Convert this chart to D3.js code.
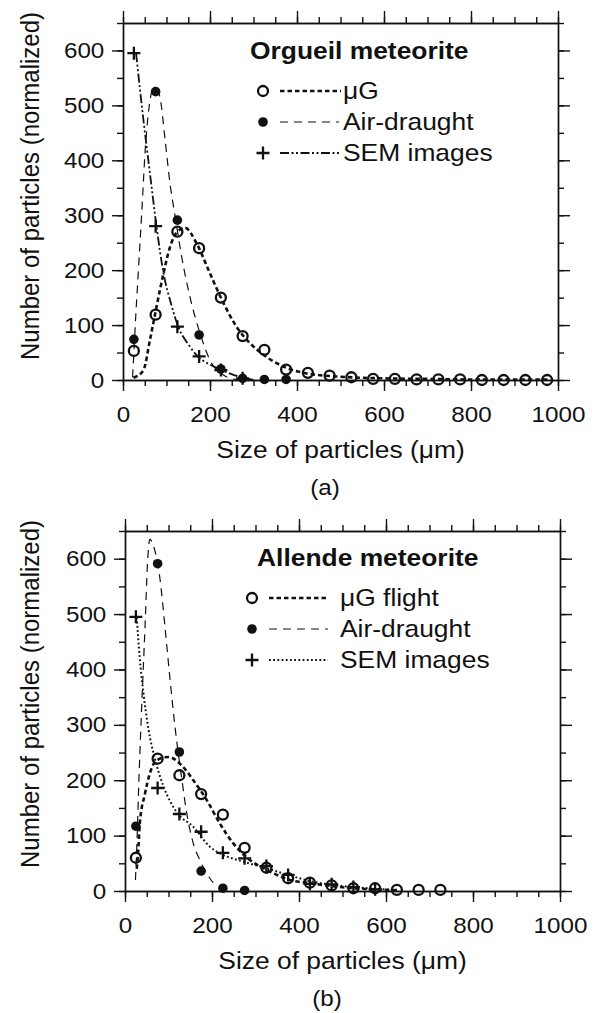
<!DOCTYPE html>
<html>
<head>
<meta charset="utf-8">
<script src="https://cdn.jsdelivr.net/npm/d3@7"></script>
<style>
  body { margin: 0; background: #fff; }
  svg { display: block; font-family: "Liberation Sans", Arial, sans-serif; }
</style>
</head>
<body>
<svg width="600" height="1013"></svg>
<script>
// bin centres (um)
var sizes = [25, 75, 125, 175, 225, 275, 325, 375, 425, 475, 525, 575, 625, 675, 725, 775, 825, 875, 925, 975];

// (a) Orgueil
var orgMuG = [53, 119, 270, 240, 150, 80, 55, 19, 13, 8, 5, 2, 2, 1, 1, 1, 0, 0, 0, 0];
var orgAir = [74, 525, 291, 82, 20, 3, 1, 1];
var orgSem = [595, 280, 97, 43, 18, 3];
// fitted curves, [size, count]
var orgMuGFit = [[24,4],[47,18],[62,73],[77,133],[93,194],[108,242],[123,268],[143,277],[169,249],[200,194],[231,140],[261,97],[292,67],[330,42],[376,22],[422,12],[500,6],[600,3],[700,2],[800,1],[900,1],[980,1]];
var orgAirFit = [[22,5],[25,50],[28,97],[35,194],[43,303],[51,418],[61,503],[70,532],[78,528],[85,515],[97,436],[108,358],[120,297],[135,224],[154,151],[177,85],[200,36],[231,9],[261,1],[290,0]];
var orgSemFit = [[30,595],[47,473],[62,376],[77,280],[93,195],[110,140],[127,97],[150,65],[173,42],[200,28],[227,18],[255,9],[277,4],[300,0]];

// (b) Allende
var allMuG = [60, 239, 209, 175, 138, 78, 42, 23, 15, 10, 5, 5, 2, 2, 2];
var allAir = [117, 591, 251, 36, 5, 1];
var allSem = [495, 186, 139, 107, 69, 59, 45, 29, 13, 12, 7, 3];
var allMuGFit = [[27,40],[31,80],[34,122],[46,176],[57,212],[73,236],[100,242],[130,227],[157,200],[188,164],[218,122],[249,86],[287,56],[326,38],[379,20],[425,14],[475,9],[525,5],[575,3],[628,1]];
var allAirFit = [[24,20],[28,100],[31,176],[38,326],[46,476],[52,596],[57,635],[66,622],[80,566],[92,476],[103,386],[115,296],[130,206],[142,140],[157,86],[172,56],[195,23],[203,15]];
var allSemFit = [[27,494],[34,420],[42,360],[54,292],[69,238],[88,190],[119,142],[157,116],[195,80],[218,68],[272,53],[326,41],[375,29],[430,17],[500,9],[575,4],[628,2]];

var xTicksMajor = [0, 200, 400, 600, 800, 1000];
var yTicksMajor = [0, 100, 200, 300, 400, 500, 600];

var svg = d3.select("svg");
var ink = "#111";

function stretch(sel) {
  // the source image is a little wide, so stretch text horizontally
  sel.each(function() {
    var t = d3.select(this);
    var old = t.attr("transform") || "";
    t.attr("transform", old + " scale(1.1,1)");
  });
}

function drawPanel(p) {
  var x = d3.scaleLinear().domain([0, 1000]).range([p.left, p.right]);
  var y = d3.scaleLinear().domain([0, 650]).range([p.bottom, p.top]);
  var g = svg.append("g");

  var minorX = d3.range(0, 1001, 50), minorY = d3.range(0, 651, 50);

  function axis(gen, tr, vals, size, pad, labels) {
    var a = g.append("g").attr("transform", tr)
      .call(gen.tickValues(vals).tickSize(size).tickSizeOuter(0).tickPadding(pad)
        .tickFormat(labels ? d3.format("d") : ""));
    a.selectAll("path, line").attr("stroke", ink).attr("stroke-width", 1.4);
    a.selectAll("text").attr("fill", ink).attr("font-size", 22).attr("font-family", null);
    return a;
  }
  axis(d3.axisBottom(x), "translate(0," + p.bottom + ")", minorX, 6, 0, false);
  var bx = axis(d3.axisBottom(x), "translate(0," + p.bottom + ")", xTicksMajor, 11, 15, true);
  axis(d3.axisTop(x), "translate(0," + p.top + ")", minorX, 6, 0, false);
  axis(d3.axisTop(x), "translate(0," + p.top + ")", xTicksMajor, 12, 0, false);
  axis(d3.axisLeft(y), "translate(" + p.left + ",0)", minorY, 6, 0, false);
  var ly = axis(d3.axisLeft(y), "translate(" + p.left + ",0)", yTicksMajor, 11, 6, true);
  axis(d3.axisRight(y), "translate(" + p.right + ",0)", minorY, 6, 0, false);
  axis(d3.axisRight(y), "translate(" + p.right + ",0)", yTicksMajor, 12, 0, false);
  bx.selectAll("text").attr("dy", "0.72em");
  stretch(bx.selectAll("text"));
  stretch(ly.selectAll("text"));

  var line = d3.line().x(function(d) { return x(d[0]); }).y(function(d) { return y(d[1]); })
    .curve(d3.curveMonotoneX);

  p.series.forEach(function(s) {
    g.append("path").datum(s.fit).attr("d", line)
      .attr("fill", "none").attr("stroke", ink)
      .attr("stroke-width", s.width).attr("stroke-dasharray", s.dash);
  });

  function marker(sel, kind) {
    if (kind === "open") {
      sel.append("circle").attr("r", 5).attr("fill", "none").attr("stroke", ink).attr("stroke-width", 2.3);
    } else if (kind === "filled") {
      sel.append("circle").attr("r", 4.8).attr("fill", ink);
    } else {
      sel.append("path").attr("d", "M-6.5,0H6.5M0,-6.5V6.5").attr("stroke", ink).attr("stroke-width", 2.3);
    }
  }

  p.series.forEach(function(s) {
    var pts = s.values.map(function(v, i) { return [sizes[i], v]; });
    g.selectAll(null).data(pts).join("g")
      .attr("transform", function(d) { return "translate(" + x(d[0]) + "," + y(d[1]) + ")"; })
      .call(marker, s.kind);
  });

  // legend
  var title = g.append("text").attr("x", 0).attr("y", 0)
    .attr("transform", "translate(" + p.legX + "," + p.legY + ")")
    .attr("font-size", 24).attr("font-weight", "bold").attr("fill", ink).text(p.title);
  stretch(title);
  p.series.forEach(function(s, i) {
    var ry = p.legY + 32 + i * 31;
    marker(g.append("g").attr("transform", "translate(" + p.markX + "," + ry + ")"), s.kind);
    g.append("line").attr("x1", p.markX + 17).attr("x2", p.markX + s.legLen).attr("y1", ry).attr("y2", ry)
      .attr("stroke", ink).attr("stroke-width", s.width).attr("stroke-dasharray", s.dash);
    var t = g.append("text").attr("transform", "translate(" + p.textX + "," + (ry + 8) + ")")
      .attr("font-size", 24).attr("fill", ink).text(s.label);
    stretch(t);
  });

  // axis titles
  var xt = g.append("text").attr("transform", "translate(" + (p.left + p.right) / 2 + "," + (p.bottom + 78) + ")")
    .attr("text-anchor", "middle").attr("font-size", 24).attr("fill", ink).text("Size of particles (\u03bcm)");
  stretch(xt);
  var yt = g.append("text").attr("transform", "translate(39," + (p.top + 163) + ") scale(1.1,1) rotate(-90)")
    .attr("text-anchor", "middle").attr("font-size", 24).attr("fill", ink).text("Number of particles (normalized)");
  var tag = g.append("text").attr("transform", "translate(" + (p.left + 202) + "," + (p.bottom + 115) + ")")
    .attr("text-anchor", "middle").attr("font-size", 22).attr("fill", ink).text(p.tag);
  stretch(tag);
}

drawPanel({
  left: 123, right: 558, top: 23, bottom: 380,
  title: "Orgueil meteorite", tag: "(a)",
  legX: 250, legY: 59, markX: 263, textX: 343,
  series: [
    { kind: "open", values: orgMuG, fit: orgMuGFit, label: "\u03bcG", width: 2.6, dash: "4.5,3", legLen: 78 },
    { kind: "filled", values: orgAir, fit: orgAirFit, label: "Air-draught", width: 1.2, dash: "8,6", legLen: 76 },
    { kind: "plus", values: orgSem, fit: orgSemFit, label: "SEM images", width: 1.8, dash: "9,2.5,2,2.5,2,2.5", legLen: 76 }
  ]
});

drawPanel({
  left: 125, right: 560, top: 531, bottom: 891,
  title: "Allende meteorite", tag: "(b)",
  legX: 257, legY: 566, markX: 252, textX: 340,
  series: [
    { kind: "open", values: allMuG, fit: allMuGFit, label: "\u03bcG flight", width: 2.6, dash: "4.5,3", legLen: 76 },
    { kind: "filled", values: allAir, fit: allAirFit, label: "Air-draught", width: 1.2, dash: "8,6", legLen: 76 },
    { kind: "plus", values: allSem, fit: allSemFit, label: "SEM images", width: 2, dash: "1.8,2.4", legLen: 76 }
  ]
});
</script>
</body>
</html>
